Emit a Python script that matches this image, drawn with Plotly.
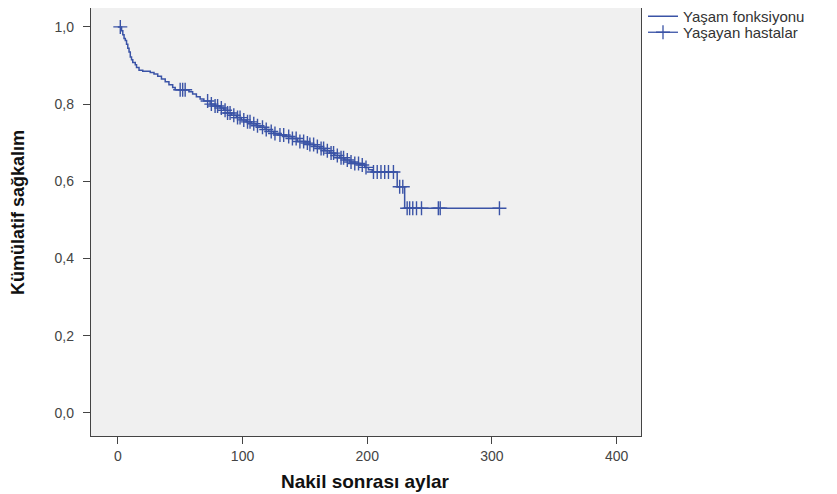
import numpy as np
import plotly.graph_objects as go

# Kaplan-Meier step data (months after transplant, cumulative survival)
step_times = [0, 3, 4, 5, 6, 7, 8, 9, 10, 11, 12, 14, 15, 17, 20, 26, 29, 32, 35, 38, 41, 44, 46,
              57, 60, 63, 66, 69, 74, 78, 82, 85, 88, 91, 95, 99, 103, 107, 111, 114, 118, 121,
              125, 130, 135, 140, 144, 150, 154, 158, 162, 166, 170, 174, 178, 182, 186, 190,
              194, 198, 201, 204, 224, 230, 306]
step_surv = [1.0, 0.99, 0.98, 0.97, 0.965, 0.955, 0.945, 0.935, 0.922, 0.915, 0.908, 0.902, 0.895,
             0.888, 0.885, 0.882, 0.878, 0.872, 0.865, 0.858, 0.850, 0.843, 0.837,
             0.832, 0.826, 0.819, 0.813, 0.808, 0.800, 0.795, 0.790, 0.784, 0.777, 0.771, 0.765,
             0.759, 0.754, 0.749, 0.744, 0.740, 0.734, 0.729, 0.724, 0.720, 0.716, 0.711, 0.703,
             0.699, 0.695, 0.690, 0.685, 0.679, 0.673, 0.667, 0.661, 0.655, 0.650, 0.646, 0.642,
             0.636, 0.630, 0.624, 0.586, 0.530, 0.530]

# Censored patients (still alive)
censor_times = [2, 50, 52, 54, 72, 75, 78, 80, 83, 86, 88, 90, 93, 96, 98, 101, 104, 106, 109,
                112, 116, 119, 123, 126, 130, 133, 137, 140, 143, 146, 149, 152, 154, 157, 160,
                163, 165, 168, 171, 173, 176, 179, 181, 184, 187, 190, 193, 196, 199, 205, 208,
                211, 214, 217, 221, 226, 228.5, 232, 234, 236.5, 239.5, 243.5, 257, 258.5, 306]

x_ticks = [0, 100, 200, 300, 400]
y_ticks = [0.0, 0.2, 0.4, 0.6, 0.8, 1.0]
y_tick_labels = ["0,0", "0,2", "0,4", "0,6", "0,8", "1,0"]

COLOR = "#3a53a6"

st = np.array(step_times)
sv = np.array(step_surv)
idx = np.searchsorted(st, np.array(censor_times), side="right") - 1
censor_surv = sv[idx]

# page body has an 8px default margin: figure sized to fit the 837x494 window
OFF = 8
FW, FH = 837 - OFF, 494 - OFF
L, R, T, B = 91 - OFF, 641 - OFF, 0, 436 - OFF   # plot box in figure pixels


def px_to_paper(wx, wy):
    fx, fy = wx - OFF, wy - OFF
    return (fx - L) / (R - L), (B - fy) / (B - T)


fig = go.Figure()
fig.add_trace(go.Scatter(x=step_times, y=step_surv, mode="lines", line_shape="hv",
                         line=dict(color=COLOR, width=1.5), name="Yaşam fonksiyonu",
                         legend="legend"))
fig.add_trace(go.Scatter(x=censor_times, y=censor_surv, mode="markers",
                         marker=dict(symbol="cross-thin", size=10, line=dict(color=COLOR, width=1.4)),
                         showlegend=False, name="Yaşayan hastalar"))
fig.add_trace(go.Scatter(x=[None], y=[None], mode="lines+markers",
                         line=dict(color=COLOR, width=1.3),
                         marker=dict(symbol="cross-thin", size=10, line=dict(color=COLOR, width=1.3)),
                         name="Yaşayan hastalar", legend="legend2"))

axis_common = dict(showline=True, linecolor="#444444", linewidth=1.4, mirror=True,
                   showgrid=False, zeroline=False, ticks="outside", ticklen=7,
                   tickcolor="#444444", tickwidth=1.4, automargin=False,
                   tickfont=dict(family="Liberation Sans, Arial", size=14, color="#444444"))

legend_font = dict(family="Liberation Sans, Arial", size=15, color="#333333")
lx, ly1 = px_to_paper(643, 16.5)
_, ly2 = px_to_paper(643, 32.5)

fig.update_layout(
    width=FW, height=FH,
    margin=dict(l=L, r=FW - R, t=T, b=FH - B, autoexpand=False),
    paper_bgcolor="white", plot_bgcolor="#f0f0f0",
    font=dict(family="Liberation Sans, Arial", color="#222222"),
    xaxis=dict(range=[-21.5, 419.5], tickvals=x_ticks, **axis_common),
    yaxis=dict(range=[-0.06, 1.049], tickvals=y_ticks, ticktext=y_tick_labels,
               ticklabelstandoff=6, **axis_common),
    legend=dict(x=lx, y=ly1, xanchor="left", yanchor="middle", bgcolor="rgba(0,0,0,0)",
                font=legend_font, itemwidth=30),
    legend2=dict(x=lx, y=ly2, xanchor="left", yanchor="middle", bgcolor="rgba(0,0,0,0)",
                 font=legend_font, itemwidth=30),
    showlegend=True,
)

# axis titles positioned in window pixels (converted to paper coordinates)
titles = [
    ("<b>Nakil sonrası aylar</b>", 365, 481, 0,
     dict(family="Liberation Sans, Arial", size=19, color="#111111")),
    ("<b>Kümülatif sağkalım</b>", 18, 213, -90,
     dict(family="Liberation Sans Narrow, Liberation Sans", size=18, color="#111111")),
]
for text, wx, wy, ang, fnt in titles:
    ax, ay = px_to_paper(wx, wy)
    fig.add_annotation(text=text, xref="paper", yref="paper", x=ax, y=ay,
                       xanchor="center", yanchor="middle", textangle=ang,
                       showarrow=False, font=fnt)

fig.write_html("out.html")
